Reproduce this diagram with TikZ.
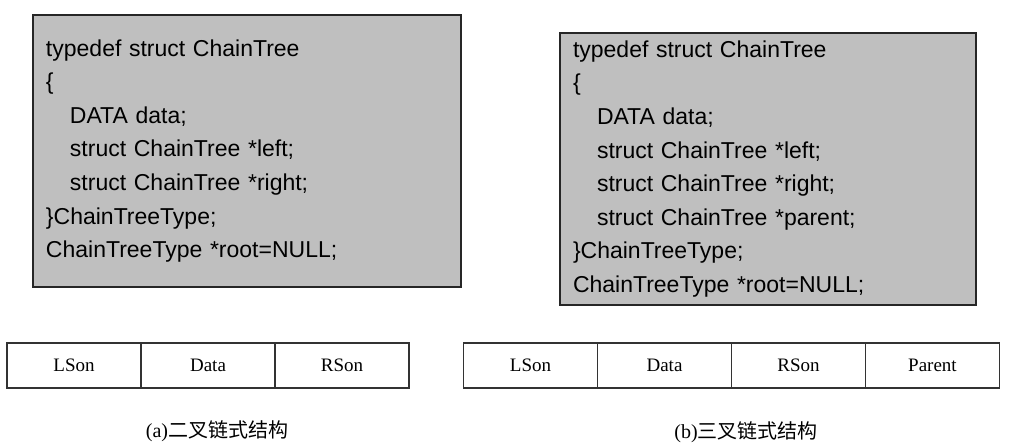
\documentclass[tikz,border=0pt]{standalone}
\usepackage{fontspec}
\setmainfont{Liberation Serif}
\setsansfont{Liberation Sans}
\newfontfamily\cjk{Noto Sans CJK SC}
\usetikzlibrary{positioning}

\begin{document}
\begin{tikzpicture}[x=0.5pt,y=-0.5pt,
    codebox/.style ={rectangle, draw=black!85, fill=black!25, line width=0.75pt, inner xsep=6.5pt, align=left, font=\sffamily\fontsize{11.5}{16.8}\selectfont},
    cell/.style ={rectangle, draw=black!80, line width=0.6pt, minimum width=67pt, minimum height=22.5pt, outer sep=0pt, inner sep=0pt, font=\fontsize{9.5}{11}\selectfont},
    caption/.style ={font=\fontsize{10}{12}\selectfont}]
   \useasboundingbox (0,0) rectangle (1009,443);
   \node[codebox, text width=201pt, minimum height=136pt] (codeA) at (247,151)
     {typedef struct ChainTree\\ \{\\
      \hspace*{12pt}DATA data;\\
      \hspace*{12pt}struct ChainTree *left;\\
      \hspace*{12pt}struct ChainTree *right;\\
      \}ChainTreeType;\\ ChainTreeType *root=NULL;};
   \node[codebox, text width=195pt, minimum height=136pt] (codeB) at (768,169)
     {typedef struct ChainTree\\ \{\\
      \hspace*{12pt}DATA data;\\
      \hspace*{12pt}struct ChainTree *left;\\
      \hspace*{12pt}struct ChainTree *right;\\
      \hspace*{12pt}struct ChainTree *parent;\\
      \}ChainTreeType;\\ ChainTreeType *root=NULL;};
   \node[cell] (lsonA) at (74,365.5) {LSon};
   \node[cell, right=0pt of lsonA] (dataA) {Data};
   \node[cell, right=0pt of dataA] (rsonA) {RSon};
   \node[cell] (lsonB) at (530.5,365.5) {LSon};
   \node[cell, right=0pt of lsonB] (dataB) {Data};
   \node[cell, right=0pt of dataB] (rsonB) {RSon};
   \node[cell, right=0pt of rsonB] (parentB) {Parent};
   \node[caption] (capA) at (217,431) {(a){\cjk 二叉链式结构}};
   \node[caption] (capB) at (746,432) {(b){\cjk 三叉链式结构}};
 \end{tikzpicture}
\end{document}
